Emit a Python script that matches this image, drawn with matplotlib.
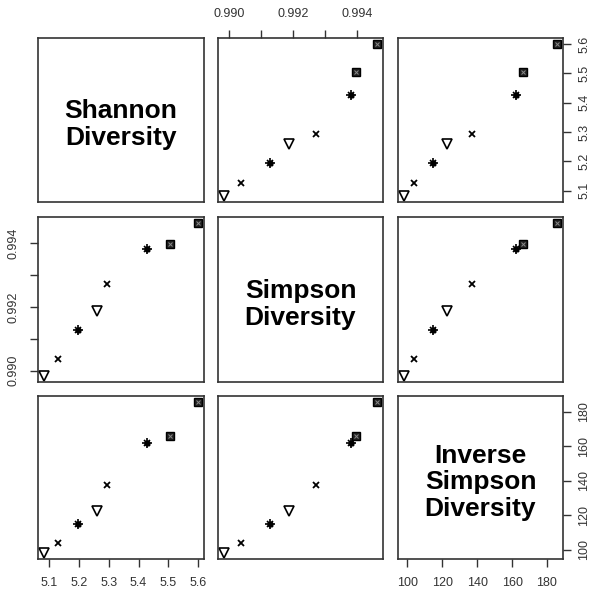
import numpy as np
import matplotlib
matplotlib.use('Agg')
import matplotlib.pyplot as plt

plt.rcParams['font.family'] = ['Liberation Sans', 'DejaVu Sans']

# diversity indices per sample
shannon = [5.082, 5.127, 5.196, 5.260, 5.294, 5.427, 5.505, 5.600]
simpson = [0.98984, 0.99037, 0.99129, 0.99186, 0.99273, 0.99383, 0.99399, 0.99463]
inv_simpson = [98.1, 103.8, 114.7, 122.6, 137.3, 162.2, 166.2, 185.7]
symbols = ['tri', 'x', 'star', 'tri', 'x', 'star', 'box', 'box']

names = ['Shannon\nDiversity', 'Simpson\nDiversity', 'Inverse\nSimpson\nDiversity']
data = [shannon, simpson, inv_simpson]
ticks = [[5.1, 5.2, 5.3, 5.4, 5.5, 5.6],
         [0.990, 0.991, 0.992, 0.993, 0.994],
         [100, 120, 140, 160, 180]]
labels = [['5.1', '5.2', '5.3', '5.4', '5.5', '5.6'],
          ['0.990', '', '0.992', '', '0.994'],
          ['100', '120', '140', '160', '180']]

W, H = 592, 590
cols = [(38, 204), (218, 383), (398, 563)]
rows = [(38, 202), (217, 382), (396, 559)]


def lims(v):
    lo, hi = min(v), max(v)
    pad = 0.04 * (hi - lo)
    return lo - pad, hi + pad


def draw_points(ax, x, y):
    for xi, yi, s in zip(x, y, symbols):
        if s == 'tri':
            ax.plot(xi, yi, marker='v', mfc='none', ms=6.5, mew=1.2,
                    color='black', ls='none')
        elif s == 'x':
            ax.plot(xi, yi, marker='x', ms=5, mew=1.3, color='black', ls='none')
        elif s == 'star':
            ax.plot(xi, yi, marker='+', ms=6.5, mew=1.2, color='black', ls='none')
            ax.plot(xi, yi, marker='x', ms=5, mew=1.2, color='black', ls='none')
            ax.plot(xi, yi, marker='o', ms=3.5, color='black', ls='none')
        else:
            ax.plot(xi, yi, marker='s', ms=5.5, color='#222222', mec='black', ls='none')
            ax.plot(xi, yi, marker='x', ms=3.5, mew=0.7, color='#888888', ls='none')


fig = plt.figure(figsize=(W / 100, H / 100), dpi=100)

for i in range(3):
    for j in range(3):
        x0, x1 = cols[j]
        y0, y1 = rows[i]
        ax = fig.add_axes([x0 / W, 1 - y1 / H, (x1 - x0) / W, (y1 - y0) / H])
        for sp in ax.spines.values():
            sp.set_linewidth(1.2)
            sp.set_color('#333333')
        ax.set_xlim(lims(data[j]))
        ax.set_ylim(lims(data[i]))
        ax.tick_params(length=6, width=1, colors='#333333', labelsize=9,
                       labelcolor='#333333', pad=7)
        ax.set_xticks([])
        ax.set_yticks([])

        if i == j:
            ax.text(0.5, 0.47, names[i], transform=ax.transAxes, ha='center',
                    va='center', fontsize=19, fontweight='bold', linespacing=1.15)
        else:
            draw_points(ax, data[j], data[i])

        # outer axes follow the alternating layout of a pairs plot
        if i == 0 and j % 2 == 1:
            ax.set_xticks(ticks[j], labels[j])
            ax.xaxis.set_ticks_position('top')
        if i == 2 and j % 2 == 0:
            ax.set_xticks(ticks[j], labels[j])
            ax.xaxis.set_ticks_position('bottom')
        if j == 0 and i % 2 == 1:
            ax.set_yticks(ticks[i], labels[i])
            ax.yaxis.set_ticks_position('left')
            for t in ax.get_yticklabels():
                t.set_rotation(90)
                t.set_va('center')
        if j == 2 and i % 2 == 0:
            ax.set_yticks(ticks[i], labels[i])
            ax.yaxis.set_ticks_position('right')
            ax.tick_params(axis='y', pad=5)
            for t in ax.get_yticklabels():
                t.set_rotation(90)
                t.set_va('center')

fig.savefig('out.png', dpi=100)
